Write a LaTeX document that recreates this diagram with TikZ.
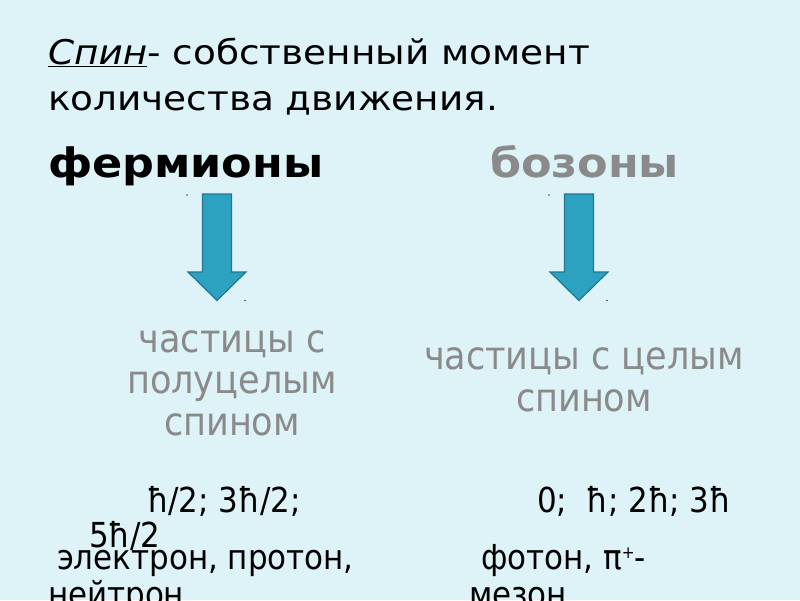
\documentclass[tikz,border=0pt]{standalone}
\usepackage{fontspec}
\setmainfont{DejaVu Sans}[FakeStretch=1.1]
\newfontfamily\condfont{DejaVu Sans Condensed}
\usepackage{xcolor}
\usetikzlibrary{positioning}

\definecolor{slidebg}{HTML}{DDF3F8}
\definecolor{arrowfill}{HTML}{2DA2C0}
\definecolor{arrowline}{HTML}{1F7890}
\definecolor{softgray}{HTML}{8A8A8A}

\begin{document}
\begin{tikzpicture}[
    x=1pt, y=-1pt,
    every node/.style={inner sep=0pt, outer sep=0pt},
    title/.style={anchor=base west, font=\fontsize{34}{44}\selectfont},
    heading/.style={anchor=base west, font=\fontsize{40.5}{48}\selectfont\bfseries},
    kind/.style={align=center, text=softgray, font=\condfont\fontsize{39}{41.5}\selectfont},
    plain/.style={anchor=base west, font=\condfont\fontsize{34.4}{36}\selectfont},
    downarrow/.style={fill=arrowfill, draw=arrowline, line width=1.2pt, line join=miter},
    corner/.style={circle, fill=black!70, minimum size=1.6pt}
]
    % slide
    \fill[slidebg] (0,0) rectangle (800,600);
    \clip (0,0) rectangle (800,600);

    % definition
    \node[title] (def1) at (48,64) {\underline{\itshape Спин}- собственный момент};
    \node[title] (def2) at (48,110) {количества движения.};

    % two families
    \node[heading] (ferm) at (48,177) {фермионы};
    \node[heading, text=softgray] (bos) at (490,177) {бозоны};

    % block arrows
    \foreach \name/\cx in {arrA/217, arrB/579}{
        \draw[downarrow] (\cx-14.5,194) -- (\cx+14.5,194) -- (\cx+14.5,272)
            -- (\cx+29,272) -- (\cx,300.5) -- (\cx-29,272) -- (\cx-14.5,272) -- cycle;
        \node[corner] (\name-nw) at (\cx-30,195) {};
        \node[corner] (\name-se) at (\cx+28,300.5) {};
    }

    % spin kinds
    \node[kind] (half) at (232,383) {частицы с\\полуцелым\\спином};
    \node[kind, font=\condfont\fontsize{39}{42}\selectfont] (whole) at (584,380) {частицы с целым\\спином};

    % values
    \node[plain] (halfval) at (147,512) {ħ/2; 3ħ/2;};
    \node[plain] (halfval2) at (89,547) {5ħ/2};
    \node[plain] (wholeval) at (537,512) {0;\ \ ħ; 2ħ; 3ħ};

    % examples
    \node[plain] (ex1) at (57,569) {электрон, протон,};
    \node[plain] (ex2) at (48,606) {нейтрон};
    \node[plain] (ex3) at (481,569) {фотон, π{\fontsize{17}{17}\selectfont\raisebox{11pt}{+}}-};
    \node[plain] (ex4) at (469,606) {мезон};
\end{tikzpicture}
\end{document}
